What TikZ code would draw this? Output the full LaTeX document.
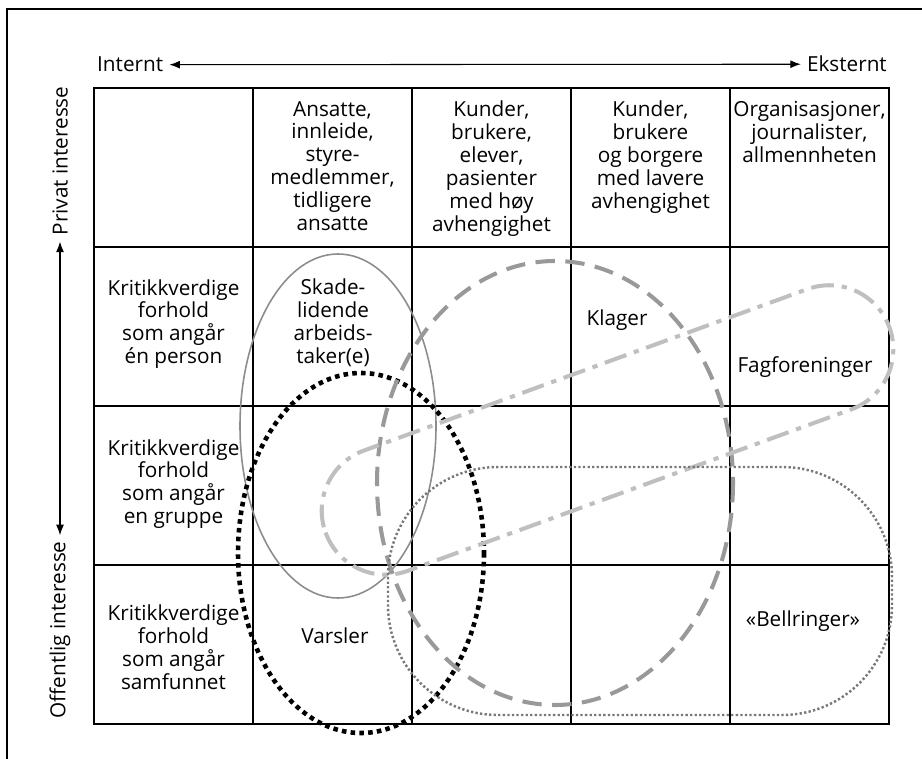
\documentclass[tikz,border=0pt]{standalone}
\usepackage{fontspec}
\setmainfont{Open Sans}
\usetikzlibrary{arrows.meta}

\begin{document}
\begin{tikzpicture}[x=0.02cm, y=-0.02cm,
    tekst/.style={align=center, font=\fontsize{11.8}{13}\selectfont},
    gitter/.style={line width=1.2pt},
    pil/.style={<->, >={Latex[length=6pt,width=4.5pt]}, line width=0.6pt},
    skadeform/.style={draw=black!45, line width=0.9pt},
    varslerform/.style={draw=black, line width=2.6pt, dash pattern=on 2.6pt off 2.4pt},
    klagerform/.style={draw=black!40, line width=2.3pt, dash pattern=on 11pt off 6pt},
    fagform/.style={draw=black!25, line width=2.3pt, dash pattern=on 13pt off 4.5pt on 3pt off 4.5pt},
    bellform/.style={draw=black!53, line width=1.4pt, dash pattern=on 1.3pt off 1.3pt}]
    \useasboundingbox (0,0) rectangle (922,759);
    % ramme
    \draw[line width=1.5pt] (7,770) -- (7,9) -- (930,9);
    % tabell
    \draw[gitter] (94,88) rectangle (889,724);
    \draw[gitter] (253,88) -- (253,724);
    \draw[gitter] (412,88) -- (412,724);
    \draw[gitter] (571,88) -- (571,724);
    \draw[gitter] (730,88) -- (730,724);
    \draw[gitter] (94,247) -- (889,247);
    \draw[gitter] (94,406) -- (889,406);
    \draw[gitter] (94,565) -- (889,565);
    % akser
    \node[tekst, anchor=base west] (intern) at (91,72) {Internt};
    \node[tekst, anchor=base east] (ekstern) at (893,72) {Eksternt};
    \draw[pil] (intern.east) -- (ekstern.west);
    \node[tekst, rotate=90] (privat) at (60,161) {Privat interesse};
    \node[tekst, rotate=90] (offentlig) at (60,630) {Offentlig interesse};
    \draw[pil] (privat.west) -- (offentlig.east);
    % kolonner
    \node[tekst, anchor=north] (ansatte) at (332.5,95) {Ansatte,\\innleide,\\styre-\\medlemmer,\\tidligere\\ansatte};
    \node[tekst, anchor=north] (kunder) at (491.5,95) {Kunder,\\brukere,\\elever,\\pasienter\\med høy\\avhengighet};
    \node[tekst, anchor=north] (borgere) at (650.5,95) {Kunder,\\brukere\\og borgere\\med lavere\\avhengighet};
    \node[tekst, anchor=north] (organisasjoner) at (809.5,95) {Organisasjoner,\\journalister,\\allmennheten};
    % rader
    \node[tekst] (person) at (173.5,324) {Kritikkverdige\\forhold\\som angår\\én person};
    \node[tekst] (gruppe) at (173.5,484) {Kritikkverdige\\forhold\\som angår\\en gruppe};
    \node[tekst] (samfunn) at (173.5,647) {Kritikkverdige\\forhold\\som angår\\samfunnet};
    % grupper
    \draw[skadeform] (338,426) ellipse [x radius=98, y radius=172];
    \draw[varslerform] (361,553) ellipse [x radius=123, y radius=180];
    \draw[klagerform] (555,483) ellipse [x radius=178, y radius=222];
    \begin{scope}[shift={(607.5,430)}, rotate=20]
        \draw[fagform, rounded corners=1.28cm] (-300,-64) rectangle (300,64);
    \end{scope}
    \draw[bellform, rounded corners=2.2cm] (388,467) rectangle (892,715);
    \node[tekst] (skade) at (333,323) {Skade-\\lidende\\arbeids-\\taker(e)};
    \node[tekst] (klager) at (617,320) {Klager};
    \node[tekst] (fagforening) at (805,367) {Fagforeninger};
    \node[tekst] (varsler) at (335,636) {Varsler};
    \node[tekst] (bellringer) at (803,621) {«Bellringer»};
\end{tikzpicture}
\end{document}
